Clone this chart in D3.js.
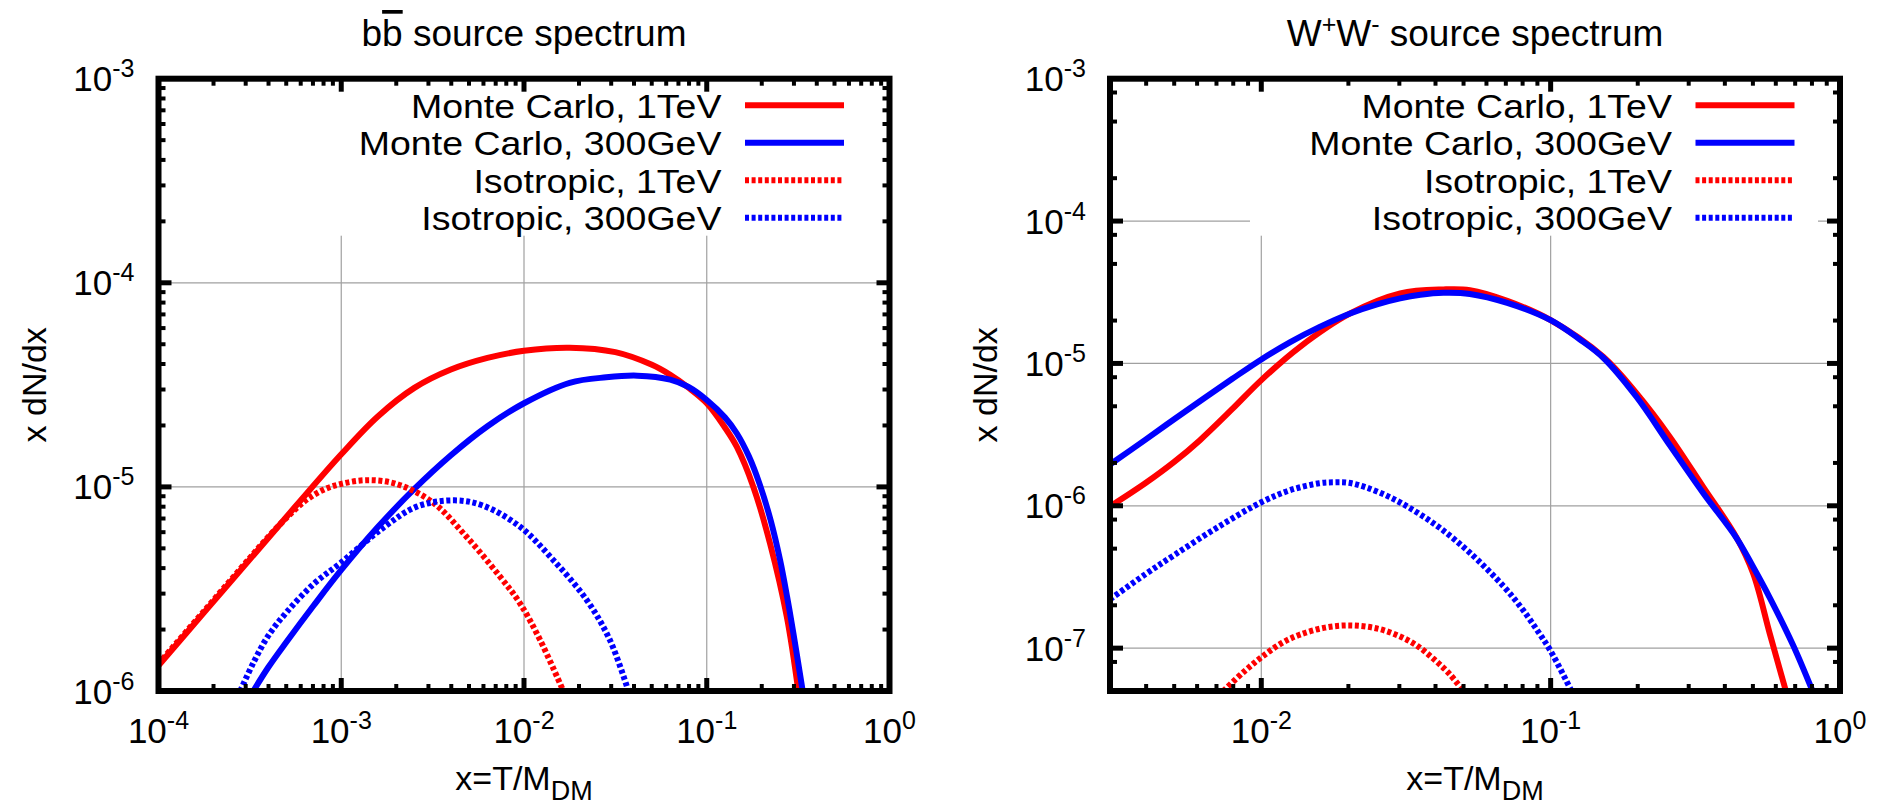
<!DOCTYPE html>
<html>
<head>
<meta charset="utf-8">
<script src="https://cdn.jsdelivr.net/npm/d3@7"></script>
<style>
  body { margin: 0; background: #fff; }
  svg { display: block; }
  text { font-family: "Liberation Sans", Arial, Helvetica, sans-serif; fill: #000; }
</style>
</head>
<body>
<svg id="chart" width="1884" height="806"></svg>
<script>
// ---- b b-bar channel: [x = T/M_DM, x dN/dx] ----
const bbMonteCarlo1TeV = [
  [1e-4, 1.334e-6], [1.778e-4, 2.427e-6], [3.162e-4, 4.416e-6], [5.623e-4, 8.035e-6],
  [1e-3, 1.445e-5], [1.585e-3, 2.213e-5], [2.512e-3, 3.055e-5], [3.981e-3, 3.758e-5],
  [6.31e-3, 4.285e-5], [1e-2, 4.645e-5], [1.778e-2, 4.808e-5], [3.162e-2, 4.571e-5],
  [5.012e-2, 3.963e-5], [6.31e-2, 3.54e-5], [7.943e-2, 3.062e-5], [0.1, 2.57e-5],
  [0.1259, 1.95e-5], [0.1459, 1.574e-5], [0.1799, 1.0e-5], [0.2218, 5.297e-6],
  [0.2742, 2.312e-6], [0.317, 1.0e-6]
];
const bbMonteCarlo300GeV = [
  [3.304e-4, 1.0e-6], [3.981e-4, 1.303e-6], [5.012e-4, 1.738e-6], [7.079e-4, 2.63e-6],
  [1e-3, 3.917e-6], [1.585e-3, 6.353e-6], [2.512e-3, 9.77e-6], [3.981e-3, 1.429e-5],
  [6.31e-3, 1.982e-5], [1e-2, 2.57e-5], [1.778e-2, 3.236e-5], [2.818e-2, 3.443e-5],
  [4.169e-2, 3.508e-5], [6.31e-2, 3.357e-5], [7.943e-2, 3.09e-5], [0.1, 2.667e-5],
  [0.1259, 2.188e-5], [0.1459, 1.832e-5], [0.1698, 1.416e-5], [0.1954, 1.023e-5],
  [0.2239, 6.84e-6], [0.2518, 4.385e-6], [0.2754, 2.884e-6], [0.2979, 1.919e-6],
  [0.335, 1.0e-6]
];
const bbIsotropic1TeV = [
  [1e-4, 1.36e-6], [1.778e-4, 2.47e-6], [3.162e-4, 4.49e-6], [3.981e-4, 5.68e-6],
  [5.012e-4, 7.05e-6], [6.31e-4, 8.51e-6], [7.943e-4, 9.66e-6], [1e-3, 1.035e-5],
  [1.38e-3, 1.079e-5], [1.995e-3, 1.035e-5], [3.162e-3, 8.41e-6], [4.853e-3, 5.69e-6],
  [7.396e-3, 3.63e-6], [9.506e-3, 2.69e-6], [1.225e-2, 1.778e-6], [1.641e-2, 1.0e-6]
];
const bbIsotropic300GeV = [
  [2.8e-4, 1.0e-6], [3.311e-4, 1.38e-6], [3.981e-4, 1.862e-6], [5.012e-4, 2.427e-6],
  [7.079e-4, 3.35e-6], [1e-3, 4.266e-6], [1.698e-3, 6.31e-6], [2.588e-3, 8.0e-6],
  [4.169e-3, 8.59e-6], [5.984e-3, 8.09e-6], [9.506e-3, 6.38e-6], [1.445e-2, 4.385e-6],
  [2.203e-2, 2.793e-6], [2.951e-2, 1.778e-6], [3.724e-2, 1.0e-6]
];

// ---- W+W- channel ----
const wwMonteCarlo1TeV = [
  [3e-3, 9.89e-7], [3.981e-3, 1.445e-6], [5.012e-3, 2.042e-6], [6.138e-3, 2.891e-6],
  [7.943e-3, 4.786e-6], [1e-2, 7.638e-6], [1.361e-2, 1.309e-5], [2.028e-2, 2.244e-5],
  [3.02e-2, 3.105e-5], [4.256e-2, 3.311e-5], [5.26e-2, 3.273e-5], [7.079e-2, 2.754e-5],
  [0.1, 2.014e-5], [0.152, 1.112e-5], [0.1982, 6.152e-6], [0.2582, 3.048e-6],
  [0.3365, 1.358e-6], [0.4385, 6.0e-7], [0.5012, 3.34e-7], [0.5715, 1.27e-7],
  [0.6501, 5e-8]
];
const wwMonteCarlo300GeV = [
  [3e-3, 1.95e-6], [3.981e-3, 2.917e-6], [5.012e-3, 4.074e-6], [6.31e-3, 5.649e-6],
  [7.943e-3, 7.798e-6], [1e-2, 1.067e-5], [1.259e-2, 1.413e-5], [1.585e-2, 1.799e-5],
  [2.028e-2, 2.244e-5], [2.512e-2, 2.6e-5], [3.02e-2, 2.864e-5], [3.548e-2, 3.034e-5],
  [4.256e-2, 3.133e-5], [5.26e-2, 3.076e-5], [7.079e-2, 2.661e-5], [0.1, 2.014e-5],
  [0.1259, 1.479e-5], [0.152, 1.096e-5], [0.1982, 5.808e-6], [0.2582, 2.661e-6],
  [0.3365, 1.23e-6], [0.4385, 5.957e-7], [0.5012, 3.715e-7], [0.5715, 2.265e-7],
  [0.6887, 1.047e-7], [0.8035, 5e-8]
];
const wwIsotropic1TeV = [
  [7.396e-3, 5e-8], [8.71e-3, 6.839e-8], [1e-2, 8.61e-8], [1.175e-2, 1.084e-7],
  [1.361e-2, 1.245e-7], [1.66e-2, 1.393e-7], [2.028e-2, 1.445e-7], [2.512e-2, 1.374e-7],
  [3.02e-2, 1.208e-7], [3.467e-2, 1.035e-7], [3.936e-2, 8.414e-8], [4.467e-2, 6.607e-8],
  [4.989e-2, 5e-8]
];
const wwIsotropic300GeV = [
  [3e-3, 2.203e-7], [3.981e-3, 3.311e-7], [5.012e-3, 4.519e-7], [7.015e-3, 6.998e-7],
  [1e-2, 1.059e-6], [1.259e-2, 1.288e-6], [1.585e-2, 1.439e-6], [1.778e-2, 1.462e-6],
  [1.995e-2, 1.452e-6], [2.312e-2, 1.343e-6], [2.818e-2, 1.135e-6], [3.443e-2, 9.016e-7],
  [4.169e-2, 6.918e-7], [5.26e-2, 4.677e-7], [6.871e-2, 2.723e-7], [7.943e-2, 1.905e-7],
  [8.954e-2, 1.349e-7], [0.1, 9.55e-8], [0.118, 5e-8]
];

// ---- labels and ticks ----
const legendLabels = ["Monte Carlo, 1TeV", "Monte Carlo, 300GeV", "Isotropic, 1TeV", "Isotropic, 300GeV"];
const bbXTicks = [1e-4, 1e-3, 1e-2, 1e-1, 1];
const bbYTicks = [1e-6, 1e-5, 1e-4, 1e-3];
const wwXTicks = [1e-2, 1e-1, 1];
const wwYTicks = [1e-7, 1e-6, 1e-5, 1e-4, 1e-3];
const bbDomainX = [1e-4, 1], bbDomainY = [1e-6, 1e-3];
const wwDomainX = [3e-3, 1], wwDomainY = [5e-8, 1e-3];
const fullMinor = [2, 3, 4, 5, 6, 7, 8, 9];
const sparseMinor = [2, 5, 8];

// ---- drawing styles ----
const seriesStyles = [
  { color: "#ff0000", dash: null },
  { color: "#0000ff", dash: null },
  { color: "#ff0000", dash: "4 2.6" },
  { color: "#0000ff", dash: "4 2.6" }
];
const LINE_W = 6;
const TICK_FONT = 35, TICK_SUP = 25;
const LABEL_FONT = 34, TITLE_FONT = 37;
// key text: compact em box so rows do not collide, widened to the wider face
const LEGEND_FONT = 33.5, LEGEND_WIDEN = 37.5 / 33.5;

const svg = d3.select("#chart");
svg.append("rect").attr("width", 1884).attr("height", 806).attr("fill", "#fff");

const panels = [
  {
    id: "bb", left: 158.5, right: 889.5, top: 78.7, bottom: 691,
    xDomain: bbDomainX, yDomain: bbDomainY, xTicks: bbXTicks, yTicks: bbYTicks,
    xMinor: fullMinor, yMinor: fullMinor,
    series: [bbMonteCarlo1TeV, bbMonteCarlo300GeV, bbIsotropic1TeV, bbIsotropic300GeV],
    title: "bb"
  },
  {
    id: "ww", left: 1110, right: 1840, top: 78.7, bottom: 691,
    xDomain: wwDomainX, yDomain: wwDomainY, xTicks: wwXTicks, yTicks: wwYTicks,
    xMinor: fullMinor, yMinor: sparseMinor,
    series: [wwMonteCarlo1TeV, wwMonteCarlo300GeV, wwIsotropic1TeV, wwIsotropic300GeV],
    title: "ww"
  }
];

function minorValues(domain, mults) {
  const out = [];
  const k0 = Math.floor(Math.log10(domain[0])), k1 = Math.ceil(Math.log10(domain[1]));
  for (let k = k0; k < k1; k++) {
    for (const m of mults) {
      const v = m * Math.pow(10, k);
      if (v > domain[0] * 1.0001 && v < domain[1] * 0.9999) out.push(v);
    }
  }
  return out;
}

function powerLabel(sel, v) {
  const e = Math.round(Math.log10(v));
  sel.append("tspan").text("10");
  sel.append("tspan").attr("dy", -14).attr("font-size", TICK_SUP).text(String(e));
}

panels.forEach(p => {
  const g = svg.append("g");
  const x = d3.scaleLog().domain(p.xDomain).range([p.left, p.right]);
  const y = d3.scaleLog().domain(p.yDomain).range([p.bottom, p.top]);
  const cx = (p.left + p.right) / 2, cy = (p.top + p.bottom) / 2;
  const inX = v => v > p.xDomain[0] * 1.0001 && v < p.xDomain[1] * 0.9999;
  const inY = v => v > p.yDomain[0] * 1.0001 && v < p.yDomain[1] * 0.9999;

  // grid at major ticks
  const grid = g.append("g").attr("stroke", "#a0a0a0").attr("stroke-width", 1.2);
  p.xTicks.filter(inX).forEach(v => {
    grid.append("line").attr("x1", x(v)).attr("x2", x(v)).attr("y1", p.top).attr("y2", p.bottom);
  });
  p.yTicks.filter(inY).forEach(v => {
    grid.append("line").attr("x1", p.left).attr("x2", p.right).attr("y1", y(v)).attr("y2", y(v));
  });

  // opaque key box
  g.append("rect")
    .attr("x", p.right - 590).attr("y", p.top + 3)
    .attr("width", 568).attr("height", 154).attr("fill", "#fff");

  // curves
  const clipId = "clip-" + p.id;
  g.append("clipPath").attr("id", clipId).append("rect")
    .attr("x", p.left).attr("y", p.top).attr("width", p.right - p.left).attr("height", p.bottom - p.top);
  const line = d3.line().x(d => x(d[0])).y(d => y(d[1])).curve(d3.curveCatmullRom.alpha(0.5));
  const curves = g.append("g").attr("clip-path", `url(#${clipId})`);
  p.series.forEach((s, i) => {
    curves.append("path").datum(s).attr("d", line)
      .attr("fill", "none").attr("stroke", seriesStyles[i].color)
      .attr("stroke-width", LINE_W).attr("stroke-dasharray", seriesStyles[i].dash)
      .attr("stroke-linejoin", "round");
  });

  // frame
  g.append("rect").attr("x", p.left).attr("y", p.top)
    .attr("width", p.right - p.left).attr("height", p.bottom - p.top)
    .attr("fill", "none").attr("stroke", "#000").attr("stroke-width", 6);

  // ticks on all four sides, pointing inward
  const ticks = g.append("g").attr("stroke", "#000");
  const tickSetX = (vals, len, w) => {
    vals.forEach(v => {
      const xv = x(v);
      ticks.append("line").attr("x1", xv).attr("x2", xv).attr("y1", p.bottom).attr("y2", p.bottom - len).attr("stroke-width", w);
      ticks.append("line").attr("x1", xv).attr("x2", xv).attr("y1", p.top).attr("y2", p.top + len).attr("stroke-width", w);
    });
  };
  const tickSetY = (vals, len, w) => {
    vals.forEach(v => {
      const yv = y(v);
      ticks.append("line").attr("y1", yv).attr("y2", yv).attr("x1", p.left).attr("x2", p.left + len).attr("stroke-width", w);
      ticks.append("line").attr("y1", yv).attr("y2", yv).attr("x1", p.right).attr("x2", p.right - len).attr("stroke-width", w);
    });
  };
  tickSetX(p.xTicks.filter(inX), 13, 5);
  tickSetX(minorValues(p.xDomain, p.xMinor), 7, 4);
  tickSetY(p.yTicks.filter(inY), 13, 5);
  tickSetY(minorValues(p.yDomain, p.yMinor), 7, 4);

  // tick labels
  p.xTicks.forEach(v => {
    const t = g.append("text").attr("x", x(v)).attr("y", p.bottom + 52)
      .attr("text-anchor", "middle").attr("font-size", TICK_FONT);
    powerLabel(t, v);
  });
  p.yTicks.forEach(v => {
    const t = g.append("text").attr("x", p.left - 24).attr("y", y(v) + 12.5)
      .attr("text-anchor", "end").attr("font-size", TICK_FONT);
    powerLabel(t, v);
  });

  // axis labels
  const xl = g.append("text").attr("x", cx).attr("y", 790)
    .attr("text-anchor", "middle").attr("font-size", LABEL_FONT);
  xl.append("tspan").text("x=T/M");
  xl.append("tspan").attr("dy", 10).attr("font-size", 27).text("DM");
  g.append("text").attr("transform", `translate(${p.left - 113},${cy}) rotate(-90)`)
    .attr("text-anchor", "middle").attr("font-size", LABEL_FONT).text("x dN/dx");

  // title
  const tt = g.append("text").attr("x", cx).attr("y", 46)
    .attr("text-anchor", "middle").attr("font-size", TITLE_FONT);
  if (p.title === "bb") {
    tt.append("tspan").text("b");
    tt.append("tspan").style("text-decoration", "overline").text("b");
    tt.append("tspan").text(" source spectrum");
  } else {
    tt.append("tspan").text("W");
    tt.append("tspan").attr("dy", -13).attr("font-size", 25).text("+");
    tt.append("tspan").attr("dy", 13).text("W");
    tt.append("tspan").attr("dy", -13).attr("font-size", 25).text("-");
    tt.append("tspan").attr("dy", 13).text(" source spectrum");
  }

  // key
  const key = g.append("g");
  legendLabels.forEach((lab, i) => {
    const ry = p.top + 26.5 + i * 37.5;
    const t = key.append("text").attr("x", p.right - 168).attr("y", ry + 12.5)
      .attr("text-anchor", "end").attr("font-size", LEGEND_FONT).text(lab);
    const natural = t.node().getComputedTextLength();
    t.attr("textLength", natural * LEGEND_WIDEN).attr("lengthAdjust", "spacingAndGlyphs");
    key.append("line").attr("x1", p.right - 144.5).attr("x2", p.right - 45.5)
      .attr("y1", ry).attr("y2", ry)
      .attr("stroke", seriesStyles[i].color).attr("stroke-width", LINE_W)
      .attr("stroke-dasharray", seriesStyles[i].dash);
  });
});
</script>
</body>
</html>
